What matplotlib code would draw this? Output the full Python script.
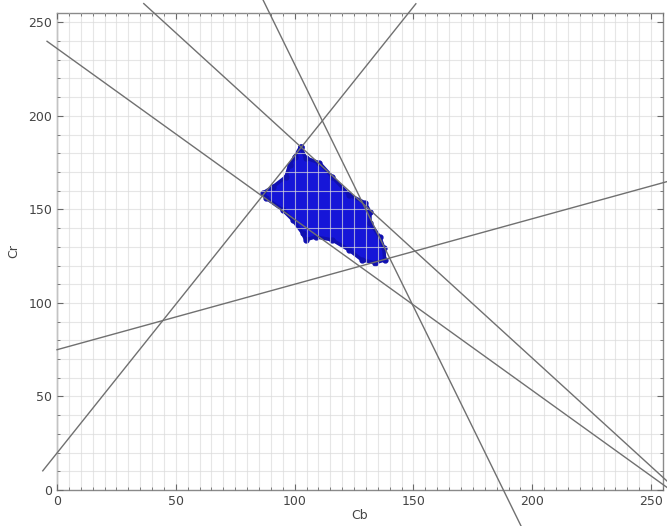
import numpy as np
import matplotlib
matplotlib.use("Agg")
import matplotlib.pyplot as plt

# ======================
# DATA
# ======================
# skin cluster outline in (Cb, Cr)
blob_cb = [102.5, 104.6, 110.4, 115.8, 122.9, 129.6, 131.7, 131.7, 135.8, 137.5,
           137.9, 133.8, 128.3, 122.9, 115.8, 108.8, 104.6, 103.3, 99.2, 95.0,
           87.9, 86.7, 90.8, 96.3, 97.9, 100.0]
blob_cr = [183.4, 177.5, 174.9, 167.4, 157.8, 153.5, 148.7, 142.8, 135.3, 129.4,
           123.0, 121.4, 123.0, 128.3, 133.7, 135.3, 133.7, 137.4, 144.4, 149.7,
           156.1, 158.8, 162.0, 167.4, 173.8, 178.1]

# boundary lines Cr = intercept + slope * Cb, drawn between cb_start and cb_end
line_intercept = [236.0, 302.3, 486.5, 19.8, 75.0]
line_slope = [-0.914, -1.159, -2.59, 1.59, 0.35]
line_cb_start = [-4.2, 36.5, 86.7, -6.0, 0.0]
line_cb_end = [262.0, 262.0, 196.0, 151.0, 262.0]

ticks = [0, 50, 100, 150, 200, 250]

# ======================
# FIGURE
# ======================
fig = plt.figure(figsize=(6.67, 5.26), dpi=100)
ax = fig.add_axes([0.0855, 0.0684, 0.9085, 0.907])

ax.set_xlim(0, 255)
ax.set_ylim(0, 255)

# grid
ax.set_xticks(ticks)
ax.set_yticks(ticks)
ax.set_xticks(np.arange(0, 256, 5), minor=True)
ax.set_yticks(np.arange(0, 256, 10), minor=True)
ax.grid(True, which="both", color="#dcdcdc", linewidth=0.8, alpha=0.7, zorder=2.5)
ax.set_axisbelow(False)

# skin cluster
ax.fill(blob_cb, blob_cr, color="#1616d8", zorder=2)
ax.plot(blob_cb + blob_cb[:1], blob_cr + blob_cr[:1], color="#1010b0",
        linewidth=2.5, marker="o", markersize=3.5, zorder=2.2)

# lines
for a, b, x0, x1 in zip(line_intercept, line_slope, line_cb_start, line_cb_end):
    xs = np.array([x0, x1])
    ax.plot(xs, a + b * xs, color="#707070", linewidth=1.0, clip_on=False, zorder=3)

# axes styling
for s in ax.spines.values():
    s.set_color("#8a8a8a")
    s.set_linewidth(1.0)
ax.tick_params(which="both", direction="in", colors="#6a6a6a", labelcolor="#444444",
               labelsize=9, length=4, top=True, right=True)
ax.tick_params(which="minor", length=2)

ax.set_xlabel("Cb", fontsize=9, color="#444444", labelpad=1)
ax.set_ylabel("Cr", fontsize=9, color="#444444", labelpad=6)

fig.savefig("out.png", dpi=100)
